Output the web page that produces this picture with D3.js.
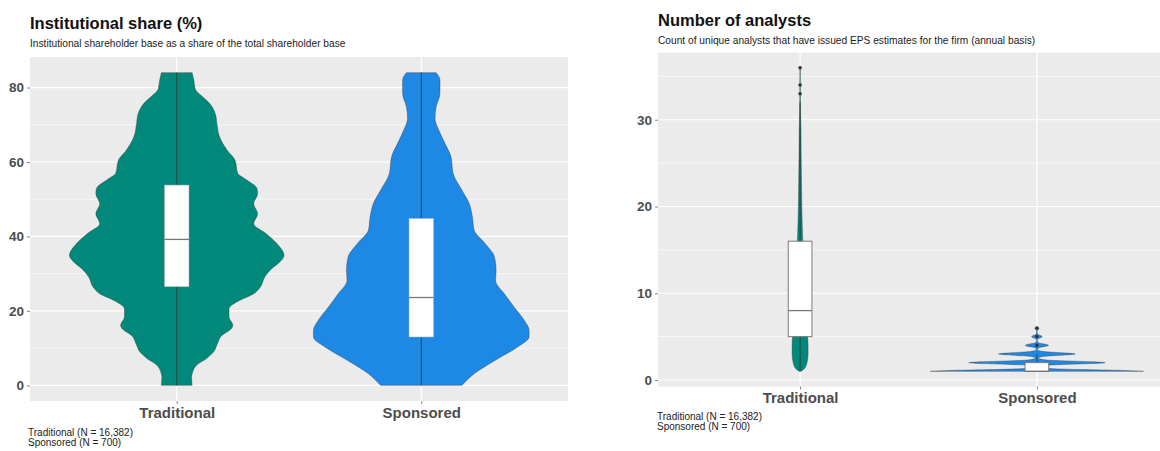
<!DOCTYPE html>
<html>
<head>
<meta charset="utf-8">
<script src="https://cdn.jsdelivr.net/npm/d3@7"></script>
<style>
  body { margin: 0; background: #fff; }
  svg { display: block; }
  text { font-family: "Liberation Sans", Arial, sans-serif; }
</style>
</head>
<body>
<svg id="chart" width="1160" height="451"></svg>
<script>
// ---- categories ----
const groups = ["Traditional", "Sponsored"];
const groupN = ["16,382", "700"];
const groupFill = ["#00897B", "#1E88E5"];

// ---- Institutional share (%): violin outlines (value, relative density) ----
const instTradValue = [0, 2.3, 3.6, 5.4, 7.2, 9, 11.2, 13.4, 14.8, 16.1, 18.4, 20.6, 22.4, 24.6, 26.4, 29.1, 31.4, 33.1, 34.9, 38.1, 40.8, 43.4, 46.1, 48.8, 51.5, 52.8, 55.5, 56.9, 60.5, 63.1, 66.7, 70.3, 72.5, 75.7, 77.9, 79.5, 82, 84];
const instTradDensity = [0.14, 0.135, 0.145, 0.18, 0.27, 0.335, 0.37, 0.41, 0.48, 0.51, 0.475, 0.475, 0.545, 0.70, 0.76, 0.80, 0.865, 0.935, 0.975, 0.91, 0.81, 0.70, 0.735, 0.70, 0.735, 0.73, 0.62, 0.555, 0.53, 0.46, 0.39, 0.365, 0.355, 0.30, 0.22, 0.17, 0.155, 0.14];
const instSponValue = [0, 3.1, 6.7, 10.3, 13, 14.8, 17.5, 21, 24.6, 28.2, 30.9, 34.5, 38.1, 41.7, 45.2, 48.9, 52.4, 56.9, 61.4, 65, 68.5, 71.7, 74.8, 78.4, 82, 84];
const instSponDensity = [0.37, 0.48, 0.67, 0.875, 0.98, 0.98, 0.935, 0.845, 0.755, 0.675, 0.68, 0.665, 0.58, 0.48, 0.465, 0.435, 0.37, 0.29, 0.27, 0.215, 0.16, 0.125, 0.135, 0.17, 0.17, 0.135];

// box statistics: [lower whisker, Q1, median, Q3, upper whisker]
const instTradBox = [0, 26.5, 39.2, 53.8, 84];
const instSponBox = [0, 13, 23.6, 44.8, 84];
const instTicks = [0, 20, 40, 60, 80];
const instMinor = [10, 30, 50, 70];

// ---- Number of analysts ----
const anTradValue = [1, 1.3, 2, 3, 4, 5, 6, 8, 10, 12, 14, 16, 18, 20, 23, 26, 29, 30, 33, 36];
const anTradDensity = [0.01, 0.04, 0.065, 0.075, 0.075, 0.07, 0.061, 0.052, 0.042, 0.035, 0.03, 0.025, 0.02, 0.016, 0.013, 0.01, 0.008, 0.006, 0.003, 0.002];
const anSponValue = [1, 1.1, 1.2, 1.3, 1.5, 1.7, 1.8, 1.9, 2, 2.1, 2.2, 2.3, 2.5, 2.7, 2.8, 2.9, 3, 3.1, 3.2, 3.3, 3.5, 3.7, 3.8, 3.9, 4, 4.1, 4.2, 4.3, 4.5, 4.7, 4.8, 4.9, 5, 5.1, 5.2, 5.3, 5.5, 5.7, 5.8, 5.9, 6];
const anSponDensity = [1.0, 0.80, 0.42, 0.15, 0.03, 0.09, 0.27, 0.52, 0.64, 0.52, 0.27, 0.09, 0.015, 0.05, 0.15, 0.29, 0.36, 0.29, 0.15, 0.05, 0.005, 0.015, 0.045, 0.09, 0.11, 0.09, 0.045, 0.015, 0.003, 0.007, 0.02, 0.04, 0.05, 0.04, 0.02, 0.007, 0.002, 0.004, 0.01, 0.018, 0.02];

const anTradBox = [1, 5, 8, 16, 32];
const anSponBox = [1, 1, 1, 2, 3];
const anTradOutliers = [33, 34, 36];
const anSponOutliers = [4, 5, 6];
const anTicks = [0, 10, 20, 30];
const anMinor = [5, 15, 25, 35];

const svg = d3.select("#chart");

function drawPanel(p) {
  const g = svg.append("g");
  const x = d3.scalePoint().domain(groups).range([p.left, p.right]).padding(0.6);
  const step = x.step();
  const y = d3.scaleLinear().domain(p.yDomain).range([p.bottom, p.top]);
  const halfMax = 0.45 * step;
  const boxHalf = 0.05 * step;

  // panel background and grid
  g.append("rect").attr("x", p.left).attr("y", p.top)
    .attr("width", p.right - p.left).attr("height", p.bottom - p.top).attr("fill", "#EBEBEB");
  g.selectAll(".minor").data(p.minor).join("line")
    .attr("x1", p.left).attr("x2", p.right)
    .attr("y1", d => y(d)).attr("y2", d => y(d))
    .attr("stroke", "#fff").attr("stroke-width", 0.6);
  g.selectAll(".major").data(p.ticks).join("line")
    .attr("x1", p.left).attr("x2", p.right)
    .attr("y1", d => y(d)).attr("y2", d => y(d))
    .attr("stroke", "#fff").attr("stroke-width", 1.2);
  g.selectAll(".vgrid").data(groups).join("line")
    .attr("x1", d => x(d)).attr("x2", d => x(d))
    .attr("y1", p.top).attr("y2", p.bottom)
    .attr("stroke", "#fff").attr("stroke-width", 1.2);

  // violins
  p.violins.forEach((v, i) => {
    const cx = x(groups[i]);
    const pts = v.value.map((val, k) => ({ val, d: v.density[k] }));
    const area = d3.area()
      .y(d => y(d.val))
      .x0(d => cx - d.d * halfMax)
      .x1(d => cx + d.d * halfMax)
      .curve(d3.curveMonotoneY);
    g.append("path").attr("d", area(pts))
      .attr("fill", groupFill[i])
      .attr("stroke", "#333").attr("stroke-opacity", 0.75).attr("stroke-width", 0.5);
  });

  // box plots
  p.boxes.forEach((b, i) => {
    const cx = x(groups[i]);
    const [lo, q1, med, q3, hi] = b.stats;
    g.append("line").attr("x1", cx).attr("x2", cx).attr("y1", y(q3)).attr("y2", y(hi))
      .attr("stroke", "#333").attr("stroke-width", 0.8);
    g.append("line").attr("x1", cx).attr("x2", cx).attr("y1", y(q1)).attr("y2", y(lo))
      .attr("stroke", "#333").attr("stroke-width", 0.8);
    g.append("rect").attr("x", cx - boxHalf).attr("width", 2 * boxHalf)
      .attr("y", y(q3)).attr("height", Math.max(y(q1) - y(q3), 0))
      .attr("fill", "#fff").attr("stroke", p.boxStroke).attr("stroke-width", p.boxStrokeWidth);
    g.append("line").attr("x1", cx - boxHalf).attr("x2", cx + boxHalf)
      .attr("y1", y(med)).attr("y2", y(med))
      .attr("stroke", "#777").attr("stroke-width", 1.3);
    g.selectAll(null).data(b.outliers || []).join("circle")
      .attr("cx", cx).attr("cy", d => y(d)).attr("r", 1.8).attr("fill", "#333");
  });

  // y axis
  const ya = g.append("g").attr("transform", `translate(${p.left},0)`)
    .call(d3.axisLeft(y).tickValues(p.ticks).tickSize(3).tickPadding(3).tickFormat(d3.format("d")));
  ya.select(".domain").remove();
  ya.selectAll("line").attr("stroke", "#333").attr("stroke-width", 0.6);
  ya.selectAll("text").attr("fill", "#4D4D4D").attr("font-size", 13.5).attr("font-weight", "bold")
    .style("font-family", '"Liberation Sans", Arial, sans-serif');

  // x axis
  const xa = g.append("g").attr("transform", `translate(0,${p.bottom})`)
    .call(d3.axisBottom(x).tickSize(3).tickPadding(3));
  xa.select(".domain").remove();
  xa.selectAll("line").attr("stroke", "#333").attr("stroke-width", 0.6);
  xa.selectAll("text").attr("fill", "#4D4D4D").attr("font-size", 15).attr("font-weight", "bold")
    .style("font-family", '"Liberation Sans", Arial, sans-serif');

  // titles
  g.append("text").attr("x", p.left).attr("y", p.titleY).text(p.title)
    .attr("font-size", 16.5).attr("font-weight", "bold").attr("fill", "#111");
  g.append("text").attr("x", p.left).attr("y", p.subtitleY).text(p.subtitle)
    .attr("font-size", 10.2).attr("fill", "#222");

  // captions
  groups.forEach((name, i) => {
    g.append("text").attr("x", p.captionX).attr("y", p.captionY + i * 9.5)
      .text(`${name} (N = ${groupN[i]})`)
      .attr("font-size", 10).attr("fill", "#222");
  });
}

drawPanel({
  left: 30, right: 568, top: 57, bottom: 401,
  yDomain: [-4.2, 88.2], ticks: instTicks, minor: instMinor,
  violins: [
    { value: instTradValue, density: instTradDensity },
    { value: instSponValue, density: instSponDensity }
  ],
  boxes: [{ stats: instTradBox }, { stats: instSponBox }],
  boxStroke: "#b5b5b5", boxStrokeWidth: 0.5,
  title: "Institutional share (%)",
  subtitle: "Institutional shareholder base as a share of the total shareholder base",
  titleY: 29, subtitleY: 47, captionX: 28, captionY: 436
});

drawPanel({
  left: 658, right: 1179, top: 52.5, bottom: 386.5,
  yDomain: [-0.75, 37.75], ticks: anTicks, minor: anMinor,
  violins: [
    { value: anTradValue, density: anTradDensity },
    { value: anSponValue, density: anSponDensity }
  ],
  boxes: [
    { stats: anTradBox, outliers: anTradOutliers },
    { stats: anSponBox, outliers: anSponOutliers }
  ],
  boxStroke: "#7a7a7a", boxStrokeWidth: 1,
  title: "Number of analysts",
  subtitle: "Count of unique analysts that have issued EPS estimates for the firm (annual basis)",
  titleY: 26, subtitleY: 44, captionX: 657, captionY: 420
});
</script>
</body>
</html>
